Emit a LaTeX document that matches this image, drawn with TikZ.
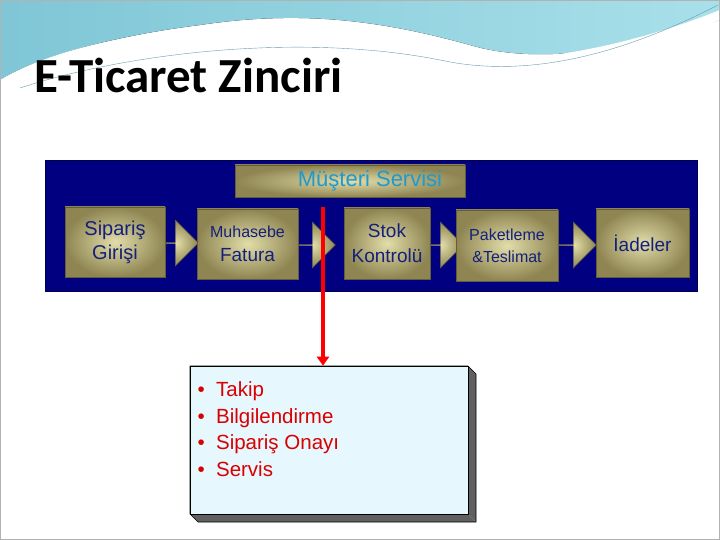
\documentclass[tikz,border=0pt]{standalone}
\usepackage{fontspec}
\setmainfont{Liberation Sans}
\newfontfamily\titlefont{Carlito}
\usetikzlibrary{shapes.arrows,arrows.meta}
\definecolor{navy}{HTML}{000080}
\definecolor{khaki}{HTML}{8E8552}
\definecolor{khakil}{HTML}{E2DDAA}
\definecolor{txtblue}{HTML}{14207A}
\definecolor{cyanT}{HTML}{1E9AD0}
\definecolor{teal1}{HTML}{7FC6D6}
\definecolor{teal2}{HTML}{A8E0EA}
\tikzset{
 stepbox/.style={inner color=khakil,outer color=khaki,draw=khaki!70!black,line width=0.4pt,align=center,text=txtblue},
 blockarr/.style={single arrow,inner color=khakil,outer color=khaki,draw=khaki!70!black,minimum height=44pt,minimum width=46pt,single arrow head extend=9pt,inner sep=0pt},
}
\begin{document}
\begin{tikzpicture}[x=1pt,y=-1pt]
\useasboundingbox (0,0) rectangle (720,540);
\fill[white] (0,0) rectangle (720,540);
% wave header
\fill[left color=teal1,right color=teal2] (0,0) -- (720,0) -- (720,20) .. controls (600,60) and (520,60) .. (470,45) .. controls (380,20) and (300,10) .. (200,25) .. controls (120,35) and (40,55) .. (0,80) -- cycle;
\fill[white] (0,80) .. controls (60,45) and (150,30) .. (220,32) .. controls (300,34) and (360,55) .. (430,60) .. controls (520,66) and (620,50) .. (720,10) -- (720,20) .. controls (620,60) and (520,75) .. (430,70) .. controls (360,66) and (280,40) .. (200,45) .. controls (130,50) and (60,75) .. (0,90) -- cycle;
\draw[teal1!80!black,thin] (20,88) .. controls (120,55) and (300,30) .. (450,62) .. controls (550,80) and (650,40) .. (718,5);
\draw[gray!60] (0.5,0.5) rectangle (719.5,539.5);
\node[anchor=base west,font=\titlefont\bfseries\fontsize{49}{52}\selectfont] (title) at (31,93) {E-Ticaret Zinciri};
% navy panel
\node[fill=navy,draw=navy!60!black,minimum width=652pt,minimum height=131pt,inner sep=0pt] (panel) at (371,225.5) {};
\node[stepbox,minimum width=230pt,minimum height=32pt,inner sep=0pt,font=\fontsize{22}{24}\selectfont,text=cyanT] (ms) at (350,181) {\hspace*{40pt}Müşteri Servisi};
\node[blockarr] (a1) at (176,243) {};
\node[blockarr] (a2) at (313,245) {};
\node[blockarr] (a3) at (441,245) {};
\node[blockarr] (a4) at (574,245) {};
\node[stepbox,minimum width=100pt,minimum height=70pt,font=\fontsize{20}{24}\selectfont] (b1) at (115,242) {Sipariş\\Girişi};
\node[stepbox,minimum width=101pt,minimum height=70pt,font=\fontsize{16}{24}\selectfont] (b2) at (247.5,244) {Muhasebe\\{\fontsize{19}{22}\selectfont Fatura}};
\node[stepbox,minimum width=86pt,minimum height=71pt,font=\fontsize{19}{25}\selectfont] (b3) at (387,243.5) {Stok\\Kontrolü};
\node[stepbox,minimum width=102pt,minimum height=71pt,font=\fontsize{16}{22}\selectfont] (b4) at (507,245.5) {Paketleme\\\&Teslimat};
\node[stepbox,minimum width=93pt,minimum height=68pt,font=\fontsize{19}{22}\selectfont] (b5) at (642.5,243) {İadeler};
% lower box with bevel
\fill[gray!75!black] (468,366) -- (476,374) -- (476,522) -- (468,514) -- cycle;
\fill[gray!75!black] (190,514) -- (468,514) -- (476,522) -- (198,522) -- cycle;
\draw[black,line width=0.6pt] (190,366) -- (468,366) -- (476,374) -- (476,522) -- (198,522) -- (190,514) -- cycle;
\node[fill=cyan!10,draw=black,line width=0.6pt,minimum width=278pt,minimum height=148pt,inner sep=0pt] (info) at (329,440) {};
\coordinate (rtop) at (323,207);
\draw[red,line width=3.5pt,-{Triangle[length=9pt,width=12pt]}] (rtop) -- (info.north -| rtop);
\node[anchor=north west,text=red!85!black,font=\fontsize{20.5}{26.8}\selectfont,align=left] (list) at (194,378) {\textbullet\ \ Takip\\\textbullet\ \ Bilgilendirme\\\textbullet\ \ Sipariş Onayı\\\textbullet\ \ Servis};
\end{tikzpicture}
\end{document}
